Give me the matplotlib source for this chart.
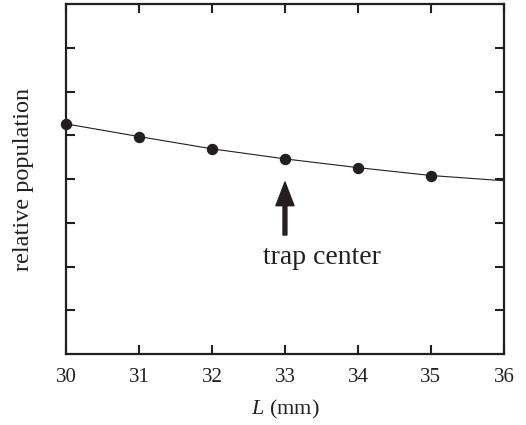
import matplotlib
matplotlib.use("Agg")
import matplotlib.pyplot as plt

# data (y axis has no labels, arbitrary units 0-8)
L_mm = [30, 31, 32, 33, 34, 35]
population = [5.26, 4.97, 4.69, 4.46, 4.26, 4.08]
L_curve = [30, 31, 32, 33, 34, 35, 36]
pop_curve = [5.26, 4.97, 4.69, 4.46, 4.26, 4.08, 3.96]
x_ticks = [30, 31, 32, 33, 34, 35, 36]
y_ticks = [1, 2, 3, 4, 5, 6, 7]

ink = "#231f20"
plt.rcParams["font.family"] = ["Liberation Serif", "DejaVu Serif"]
plt.rcParams["mathtext.fontset"] = "custom"
plt.rcParams["mathtext.it"] = "Liberation Serif:italic"
plt.rcParams["mathtext.rm"] = "Liberation Serif"

fig = plt.figure(figsize=(5.26, 4.25), dpi=100)
ax = fig.add_axes([0.1255, 0.167, 0.8325, 0.8236])

ax.plot(L_curve, pop_curve, color=ink, lw=0.8)
ax.plot(L_mm, population, "o", color=ink, ms=7.2, clip_on=False)

# arrow pointing at the trap center
ax.annotate("", xy=(33, 3.93), xytext=(33, 2.72),
            arrowprops=dict(facecolor=ink, edgecolor=ink, width=2.8,
                            headwidth=13, headlength=17, shrink=0))
ax.text(33.5, 2.05, "trap center", fontsize=20, color=ink,
        ha="center", va="baseline")

ax.set_xlim(30, 36)
ax.set_ylim(0, 8)
ax.set_xticks(x_ticks)
ax.set_yticks(y_ticks)
ax.set_yticklabels([])
ax.tick_params(direction="in", top=True, right=True, length=6.5, width=1.5,
               color=ink, labelcolor=ink, labelsize=15, pad=10)
for s in ax.spines.values():
    s.set_linewidth(1.6)
    s.set_color(ink)

ax.set_xlabel(r"$L$ (mm)", fontsize=16, color=ink, labelpad=8)
ax.set_ylabel("relative population", fontsize=17.5, color=ink, labelpad=13)

fig.savefig("out.png", dpi=100)
